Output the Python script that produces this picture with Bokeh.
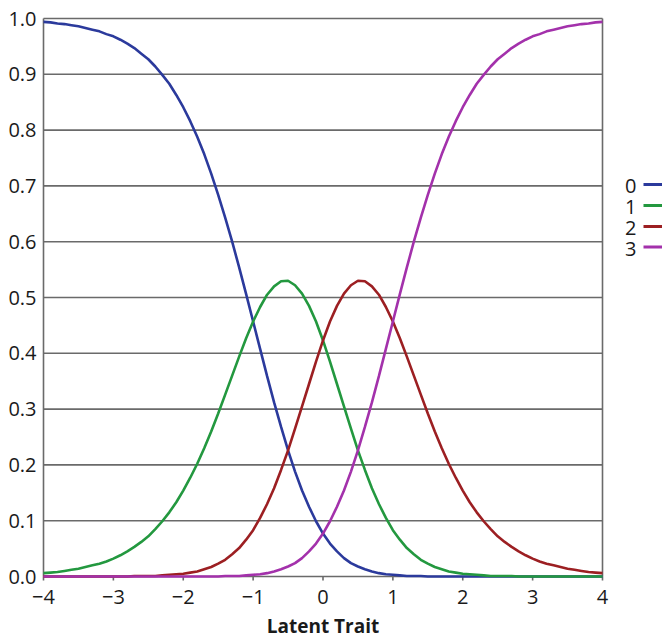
from bokeh.plotting import figure
from bokeh.models import Range1d, ColumnDataSource
from bokeh.core.properties import value
from bokeh.embed import file_html
from bokeh.resources import INLINE

# ---- data ----
theta = [round(-4 + 0.1 * i, 1) for i in range(81)]

cat0 = [0.994, 0.993, 0.991, 0.990, 0.988, 0.986, 0.983, 0.980, 0.977, 0.972,
        0.968, 0.962, 0.955, 0.947, 0.937, 0.927, 0.914, 0.899, 0.883, 0.863,
        0.841, 0.816, 0.788, 0.757, 0.722, 0.684, 0.643, 0.600, 0.554, 0.506,
        0.457, 0.408, 0.359, 0.312, 0.268, 0.226, 0.188, 0.154, 0.125, 0.099,
        0.077,
        0.059, 0.045, 0.033, 0.024, 0.018, 0.013, 0.009, 0.006, 0.004, 0.003,
        0.002, 0.001, 0.001, 0.001] + [0.0] * 26

cat1 = [0.006, 0.007, 0.008, 0.010, 0.012, 0.014, 0.017, 0.020, 0.023, 0.027,
        0.032, 0.038, 0.045, 0.053, 0.062, 0.072, 0.085, 0.099, 0.115, 0.133,
        0.154, 0.177, 0.202, 0.230, 0.260, 0.292, 0.326, 0.360, 0.394, 0.427,
        0.457, 0.483, 0.505, 0.520, 0.529, 0.530, 0.522, 0.507, 0.485, 0.457,
        0.423,
        0.385, 0.345, 0.305, 0.265, 0.226, 0.191, 0.158, 0.130, 0.105, 0.083,
        0.066, 0.051, 0.040, 0.030, 0.023, 0.017, 0.013, 0.009, 0.007, 0.005,
        0.004, 0.003, 0.002, 0.001, 0.001, 0.001, 0.001] + [0.0] * 13

cat2 = [0.0] * 13 + [
        0.001, 0.001, 0.001, 0.001, 0.002, 0.003, 0.004, 0.005, 0.007, 0.009,
        0.013, 0.017, 0.023, 0.030, 0.040, 0.051, 0.066, 0.083, 0.105, 0.130,
        0.158, 0.191, 0.226, 0.265, 0.305, 0.345, 0.385,
        0.423,
        0.457, 0.485, 0.507, 0.522, 0.530, 0.529, 0.520, 0.505, 0.483, 0.457,
        0.427, 0.394, 0.360, 0.326, 0.292, 0.260, 0.230, 0.202, 0.177, 0.154,
        0.133, 0.115, 0.099, 0.085, 0.072, 0.062, 0.053, 0.045, 0.038, 0.032,
        0.027, 0.023, 0.020, 0.017, 0.014, 0.012, 0.010, 0.008, 0.007, 0.006]

cat3 = [0.0] * 26 + [
        0.001, 0.001, 0.001, 0.002, 0.003, 0.004, 0.006, 0.009, 0.013, 0.018,
        0.024, 0.033, 0.045, 0.059,
        0.077,
        0.099, 0.125, 0.154, 0.188, 0.226, 0.268, 0.312, 0.359, 0.408, 0.457,
        0.506, 0.554, 0.600, 0.643, 0.684, 0.722, 0.757, 0.788, 0.816, 0.841,
        0.863, 0.883, 0.899, 0.914, 0.927, 0.937, 0.947, 0.955, 0.962, 0.968,
        0.972, 0.977, 0.980, 0.983, 0.986, 0.988, 0.990, 0.991, 0.993, 0.994]

categories = ["0", "1", "2", "3"]
x_ticks = [-4, -3, -2, -1, 0, 1, 2, 3, 4]
x_tick_labels = ["\u22124", "\u22123", "\u22122", "\u22121", "0", "1", "2", "3", "4"]
y_ticks = [0.0, 0.1, 0.2, 0.3, 0.4, 0.5, 0.6, 0.7, 0.8, 0.9, 1.0]
y_tick_labels = ["0.0", "0.1", "0.2", "0.3", "0.4", "0.5", "0.6", "0.7", "0.8", "0.9", "1.0"]
x_title = "Latent Trait"

colors = ["#2b3a9c", "#23983f", "#9c1f22", "#a331ab"]
FONT = "Open Sans"
TXT = "#1a1a1a"
GRID = "#6a6a6a"

# ---- page geometry (pixels) ----
W, H = 662, 638
F_LEFT, F_RIGHT, F_TOP, F_BOTTOM = 43, 602, 18, 576   # plotting area
X0, X1, Y0, Y1 = -4, 4, 0, 1
ux = (F_RIGHT - F_LEFT) / (X1 - X0)    # px per x unit
uy = (F_BOTTOM - F_TOP) / (Y1 - Y0)    # px per y unit

def dx(px):   # pixel offset -> x units
    return px / ux

def dy(px):   # pixel offset -> y units
    return px / uy

p = figure(width=W, height=H, output_backend="svg", toolbar_location=None,
           x_range=Range1d(X0 - dx(F_LEFT), X1 + dx(W - F_RIGHT)),
           y_range=Range1d(Y0 - dy(H - F_BOTTOM), Y1 + dy(F_TOP)),
           x_axis_location=None, y_axis_location=None,
           min_border=0, outline_line_color=None)
p.grid.visible = False
p.background_fill_color = "white"
p.border_fill_color = "white"

# horizontal grid lines (0.0 is the x axis, 1.0 the top border)
p.segment(x0=[X0] * len(y_ticks), y0=y_ticks, x1=[X1] * len(y_ticks), y1=y_ticks,
          line_color=GRID, line_width=1.6)
# left axis and right border
p.segment(x0=[X0, X1], y0=[Y0, Y0], x1=[X0, X1], y1=[Y1, Y1],
          line_color=GRID, line_width=1.6)
# x tick marks
p.segment(x0=x_ticks, y0=[Y0] * len(x_ticks), x1=x_ticks,
          y1=[Y0 - dy(4)] * len(x_ticks), line_color=GRID, line_width=1.6)

# curves
src = ColumnDataSource(dict(x=theta, c0=cat0, c1=cat1, c2=cat2, c3=cat3))
for key, col in zip(["c0", "c1", "c2", "c3"], colors):
    p.line("x", key, source=src, line_color=col, line_width=2.6)

# y tick labels
p.text(x=[X0 - dx(7)] * len(y_ticks), y=y_ticks, text=y_tick_labels,
       text_align="right", text_baseline="middle", text_font=value(FONT),
       text_font_size="20px", text_color=TXT)
# x tick labels
p.text(x=x_ticks, y=[Y0 - dy(20.5)] * len(x_ticks), text=x_tick_labels,
       text_align="center", text_baseline="middle", text_font=value(FONT),
       text_font_size="20px", text_color=TXT)
# x-axis title
p.text(x=[(X0 + X1) / 2], y=[Y0 - dy(49)], text=[x_title],
       text_align="center", text_baseline="middle", text_font=value(FONT),
       text_font_size="19px", text_font_style="bold", text_color=TXT)

# legend: label on the left, line sample on the right
leg_px = [185.5, 206.5, 227.5, 248]
leg_y = [Y1 - dy(v - F_TOP) for v in leg_px]
p.text(x=[X1 + dx(34)] * 4, y=leg_y, text=categories, text_align="right",
       text_baseline="middle", text_font=value(FONT), text_font_size="20px",
       text_color=TXT)
p.segment(x0=[X1 + dx(41)] * 4, y0=[v + dy(1.5) for v in leg_y],
          x1=[X1 + dx(80)] * 4, y1=[v + dy(1.5) for v in leg_y],
          line_color=colors, line_width=3)

open("out.html", "w").write(file_html(p, INLINE))
